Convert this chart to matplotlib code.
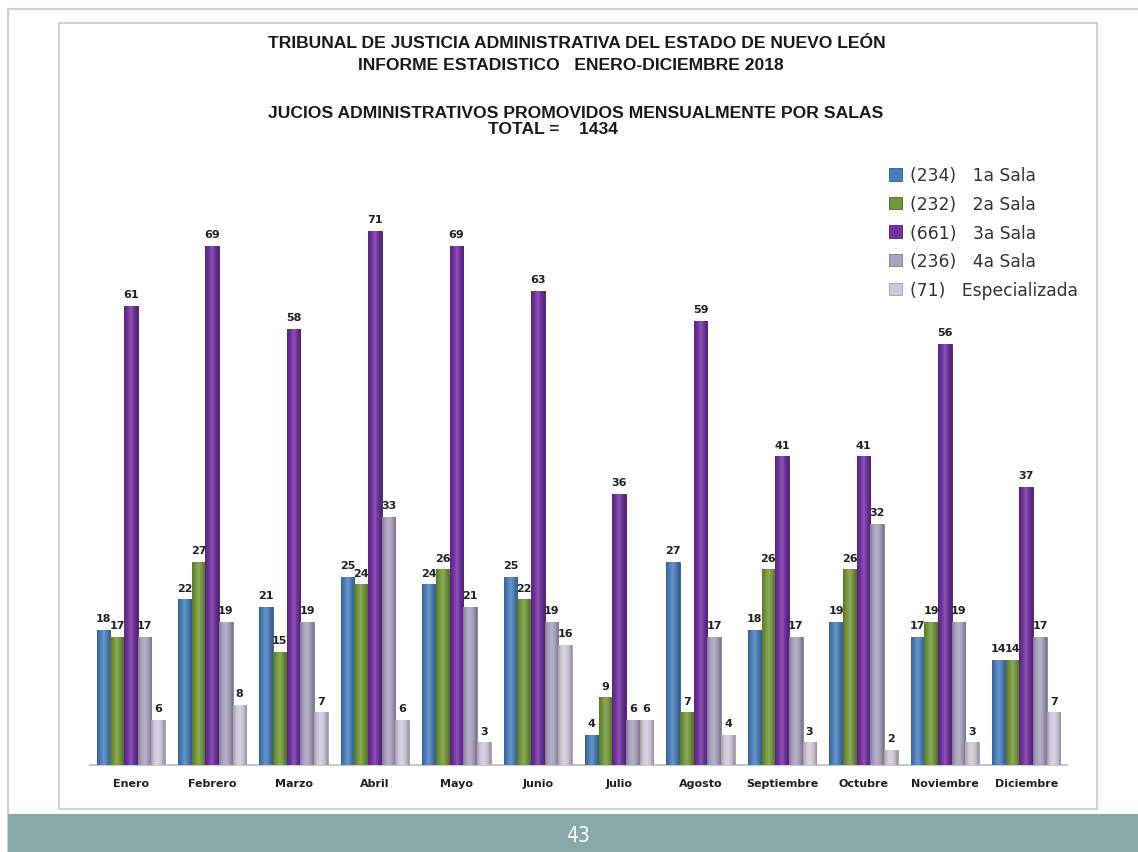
import matplotlib
matplotlib.use("Agg")
import matplotlib.pyplot as plt
from matplotlib.patches import Rectangle
from matplotlib.colors import LinearSegmentedColormap, to_rgb
import numpy as np

months = ["Enero", "Febrero", "Marzo", "Abril", "Mayo", "Junio", "Julio",
          "Agosto", "Septiembre", "Octubre", "Noviembre", "Diciembre"]
sala1 = [18, 22, 21, 25, 24, 25, 4, 27, 18, 19, 17, 14]
sala2 = [17, 27, 15, 24, 26, 22, 9, 7, 26, 26, 19, 14]
sala3 = [61, 69, 58, 71, 69, 63, 36, 59, 41, 41, 56, 37]
sala4 = [17, 19, 19, 33, 21, 19, 6, 17, 17, 32, 19, 17]
espec = [6, 8, 7, 6, 3, 16, 6, 4, 3, 2, 3, 7]
series_labels = ["(234)   1a Sala", "(232)   2a Sala", "(661)   3a Sala",
                 "(236)   4a Sala", "(71)   Especializada"]
colors = ["#4A7EBB", "#72973A", "#7030A0", "#A8A2BE", "#CFCADB"]
edges = ["#2F5F94", "#4F6B24", "#4A1A72", "#807A98", "#A39EB5"]

W, H = 1138, 853
fig = plt.figure(figsize=(W / 100, H / 100), dpi=100)
fig.patch.set_facecolor("white")

def fx(px):
    return px / W

def fy(py):
    return 1 - py / H

def shade(c, f):
    r = np.array(to_rgb(c))
    if f < 1:
        return tuple(r * f)
    return tuple(r + (1 - r) * (f - 1))

# Page frames
fig.add_artist(Rectangle((fx(8), fy(853)), fx(1140) - fx(8), fy(10) - fy(853),
                         transform=fig.transFigure, fill=False,
                         edgecolor="#D0D0D0", lw=1.5))
fig.add_artist(Rectangle((fx(59), fy(810)), fx(1097) - fx(59), fy(24) - fy(810),
                         transform=fig.transFigure, fill=False,
                         edgecolor="#D3D3D3", lw=1.5))
# Bottom teal band
fig.add_artist(Rectangle((fx(8), 0), 1 - fx(8), fy(815), transform=fig.transFigure,
                         facecolor="#87A9A7", edgecolor="none"))
fig.text(fx(578), fy(836), "43", color="white", fontsize=15, ha="center",
         va="center", family="DejaVu Sans", fontstretch="condensed")

# Axes
ax = fig.add_axes([fx(90), fy(766), fx(1067) - fx(90), fy(164) - fy(766)])

x = np.arange(len(months))
bw = 0.168
all_series = [sala1, sala2, sala3, sala4, espec]
offsets = (np.arange(5) - 2) * bw
grad = np.linspace(0, 1, 64).reshape(1, -1)
for vals, off, c, ec, lab in zip(all_series, offsets, colors, edges, series_labels):
    bars = ax.bar(x + off, vals, width=bw, color=c, edgecolor=ec, linewidth=0.6,
                  label=lab, zorder=3)
    cmap = LinearSegmentedColormap.from_list(
        "cyl", [shade(c, 0.78), shade(c, 1.0), shade(c, 1.18), shade(c, 0.95), shade(c, 0.72)])
    for rect in bars.patches:
        bx, by = rect.get_x(), rect.get_y()
        w, h = rect.get_width(), rect.get_height()
        im = ax.imshow(grad, cmap=cmap, aspect="auto", extent=[bx, bx + w, by, by + h],
                       zorder=3.5, interpolation="bilinear")
        im.set_clip_path(rect)
    for xi, v in zip(x + off, vals):
        ax.text(xi, v + 0.9, str(v), ha="center", va="bottom", fontsize=8,
                fontweight="bold", color="#222222", zorder=4)

ax.set_xlim(-0.5, 11.5)
ax.set_ylim(0, 80)
ax.axis("off")

# floor
ax.plot([-0.5, 11.5], [0, 0], color="#C8C8C8", lw=1.5, zorder=2,
        clip_on=False)

for xi, m in zip(x, months):
    ax.text(xi, -2.4, m, ha="center", va="center", fontsize=8,
            fontweight="bold", color="#222222", family="DejaVu Sans")

# Titles
tkw = dict(ha="center", va="center", fontsize=12.6, fontweight="bold",
           color="#1A1A1A", family="Liberation Sans")
fig.text(fx(577), fy(43), "TRIBUNAL DE JUSTICIA ADMINISTRATIVA DEL ESTADO DE NUEVO LEÓN", **tkw)
fig.text(fx(571), fy(66), "INFORME ESTADISTICO   ENERO-DICIEMBRE 2018", **tkw)
fig.text(fx(576), fy(113), "JUCIOS ADMINISTRATIVOS PROMOVIDOS MENSUALMENTE POR SALAS", **tkw)
fig.text(fx(553), fy(130), "TOTAL =    1434", **tkw)

leg = ax.legend(loc="upper left", bbox_to_anchor=(fx(874), fy(152)),
                bbox_transform=fig.transFigure, frameon=False,
                handlelength=0.75, handleheight=0.75,
                handletextpad=0.45, labelspacing=0.62,
                prop={"family": "DejaVu Sans", "size": 12.3})
for t in leg.get_texts():
    t.set_color("#333333")

fig.savefig("out.png", dpi=100, facecolor="white")
